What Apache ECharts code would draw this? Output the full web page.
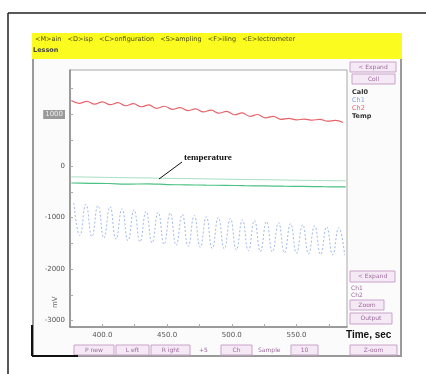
<!DOCTYPE html>
<html>
<head>
<meta charset="utf-8">
<script src="https://cdn.jsdelivr.net/npm/echarts@6/dist/echarts.min.js"></script>
<style>
  html, body { margin: 0; padding: 0; background: #fff; }
  #main { width: 426px; height: 374px; }
</style>
</head>
<body>
<div id="main"></div>
<script>
// 数据
var xTicks = [400, 450, 500, 550];
var yTicks = [-3000, -2000, -1000, 0, 1000];

var redT = [376, 382, 388, 394, 400, 406, 412, 418, 424, 430, 436, 442, 448, 454, 460, 466, 472, 478,
            484, 490, 496, 502, 508, 514, 520, 526, 532, 538, 544, 550, 556, 562, 568, 574, 580, 586];
var redV = [1270, 1215, 1255, 1200, 1245, 1190, 1230, 1170, 1210, 1150, 1185, 1120, 1160, 1100, 1135, 1075, 1110, 1050,
            1085, 1025, 1060, 995, 1030, 965, 1000, 935, 965, 905, 925, 895, 910, 890, 905, 870, 885, 845];

var blueT = [378, 382.6, 387.3, 391.9, 396.6, 401.2, 405.9, 410.5, 415.2, 419.8, 424.5, 429.1, 433.8, 438.4,
             443.1, 447.7, 452.4, 457, 461.7, 466.3, 471, 475.6, 480.3, 484.9, 489.6, 494.2, 498.9, 503.5,
             508.2, 512.8, 517.5, 522.1, 526.8, 531.4, 536.1, 540.7, 545.4, 550, 554.7, 559.3, 564, 568.6,
             573.3, 577.9, 582.6, 587.2];
var blueV = [-720, -1350, -745, -1370, -770, -1400, -790, -1420, -830, -1450, -850, -1470, -880, -1490,
             -900, -1520, -915, -1540, -940, -1560, -960, -1580, -985, -1600, -1000, -1610, -1020, -1630,
             -1045, -1645, -1060, -1660, -1080, -1670, -1100, -1685, -1120, -1695, -1140, -1705, -1160, -1715,
             -1180, -1725, -1200, -1730];

var greenT = [376, 390, 405, 420, 435, 450, 465, 480, 495, 510, 525, 540, 555, 570, 588];
var greenA = [-210, -215, -222, -228, -232, -240, -244, -250, -256, -262, -266, -272, -278, -283, -288];
var greenB = [-330, -336, -340, -352, -346, -360, -366, -372, -376, -382, -386, -392, -396, -402, -406];

function pairs(t, v) {
  var out = [];
  for (var i = 0; i < t.length; i++) out.push([t[i], v[i]]);
  return out;
}

var myChart = echarts.init(document.getElementById('main'), null, { renderer: 'canvas' });

function button(x, y, w, h, label) {
  return {
    type: 'group', z: 5,
    children: [
      { type: 'rect', shape: { x: x, y: y, width: w, height: h },
        style: { fill: '#f6e9f6', stroke: '#c9a3c9', lineWidth: 1 } },
      { type: 'text', x: x + w / 2, y: y + h / 2,
        style: { text: label, align: 'center', verticalAlign: 'middle', fontFamily: 'DejaVu Sans', fontSize: 6, fill: '#9a6a9a' } }
    ]
  };
}

var option = {
  animation: false,
  backgroundColor: '#fff',
  grid: {
    left: 70, right: 79, top: 70, bottom: 47,
    show: true, backgroundColor: '#fff', borderColor: '#a8a8a8', borderWidth: 1
  },
  xAxis: {
    type: 'value', min: 375, max: 589,
    axisLine: { onZero: false, lineStyle: { color: '#888', width: 1.5 } },
    axisTick: { customValues: [400, 425, 450, 475, 500, 525, 550, 575], length: 3, inside: true, lineStyle: { color: '#aaa' } },
    axisLabel: { customValues: xTicks, formatter: function (v) { return v.toFixed(1); },
      fontFamily: 'DejaVu Sans', fontSize: 7, color: '#555', margin: 5 },
    splitLine: { show: false }
  },
  yAxis: {
    type: 'value', min: -3126, max: 1864,
    axisLine: { show: true, lineStyle: { color: '#888', width: 1.5 } },
    axisTick: { customValues: [-3000, -2500, -2000, -1500, -1000, -500, 0, 500, 1000, 1500], length: 3, inside: true, lineStyle: { color: '#aaa' } },
    axisLabel: { customValues: yTicks, fontFamily: 'DejaVu Sans', fontSize: 7, color: '#555', margin: 5,
      formatter: function (v) { return v === 1000 ? '{g|' + v + '}' : String(v); },
      rich: { g: { backgroundColor: '#9a9a9a', color: '#eee', fontSize: 7, padding: [1, 2] } } },
    splitLine: { show: false }
  },
  series: [
    { name: 'Ch2', type: 'line', data: pairs(redT, redV), showSymbol: false, smooth: 0.4,
      lineStyle: { color: '#e5646a', width: 1.2 }, z: 3 },
    { name: 'TempA', type: 'line', data: pairs(greenT, greenA), showSymbol: false, smooth: 0.3,
      lineStyle: { color: '#a6dfc2', width: 1 } },
    { name: 'Temp', type: 'line', data: pairs(greenT, greenB), showSymbol: false, smooth: 0.3,
      lineStyle: { color: '#4cc184', width: 1.2 } },
    { name: 'Ch1', type: 'line', data: pairs(blueT, blueV), showSymbol: false, smooth: 0.5,
      lineStyle: { color: '#a3b9e8', width: 1, type: [2, 2] } }
  ],
  graphic: [
    // 外框
    { type: 'line', z: 10, shape: { x1: 8, y1: 13, x2: 426, y2: 13 }, style: { stroke: '#222', lineWidth: 1.5 } },
    { type: 'line', z: 10, shape: { x1: 8, y1: 13, x2: 8, y2: 374 }, style: { stroke: '#222', lineWidth: 1.5 } },
    // 窗口
    { type: 'rect', z: -10, shape: { x: 33, y: 58, width: 368, height: 298 },
      style: { fill: '#fcfbfc', stroke: '#9a9a9a', lineWidth: 2 } },
    { type: 'rect', z: -5, shape: { x: 32, y: 33, width: 370, height: 26 }, style: { fill: '#fbfb1f' } },
    { type: 'text', z: 6, x: 35, y: 36, style: { text: '<M>ain   <D>isp   <C>onfiguration   <S>ampling   <F>iling   <E>lectrometer',
      fontFamily: 'DejaVu Sans', fontSize: 6.5, fill: '#4a4a10' } },
    { type: 'text', z: 6, x: 33, y: 47, style: { text: 'Lesson', fontFamily: 'DejaVu Sans', fontSize: 6.5, fontWeight: 'bold', fill: '#444' } },
    { type: 'line', z: 10, shape: { x1: 32, y1: 325, x2: 32, y2: 356 }, style: { stroke: '#111', lineWidth: 2 } },
    { type: 'line', z: 10, shape: { x1: 32, y1: 356, x2: 78, y2: 356 }, style: { stroke: '#111', lineWidth: 2 } },
    // 纵轴名
    { type: 'text', z: 6, x: 52, y: 308, rotation: Math.PI / 2, style: { text: 'mV', fontFamily: 'DejaVu Sans', fontSize: 7, fill: '#666' } },
    // 右侧面板
    button(350, 62, 46, 10, '< Expand'),
    button(352, 74, 43, 10, 'Coll'),
    { type: 'text', z: 6, x: 352, y: 89, style: { text: 'Cal0', fontFamily: 'DejaVu Sans', fontSize: 6.5, fontWeight: 'bold', fill: '#333' } },
    { type: 'text', z: 6, x: 352, y: 97, style: { text: 'Ch1', fontFamily: 'DejaVu Sans', fontSize: 6.5, fill: '#7fa6e6' } },
    { type: 'text', z: 6, x: 352, y: 105, style: { text: 'Ch2', fontFamily: 'DejaVu Sans', fontSize: 6.5, fill: '#e5646a' } },
    { type: 'text', z: 6, x: 352, y: 113, style: { text: 'Temp', fontFamily: 'DejaVu Sans', fontSize: 6.5, fontWeight: 'bold', fill: '#333' } },
    button(350, 271, 45, 11, '< Expand'),
    { type: 'text', z: 6, x: 351, y: 285, style: { text: 'Ch1', fontFamily: 'DejaVu Sans', fontSize: 6, fill: '#9a6a9a' } },
    { type: 'text', z: 6, x: 351, y: 292, style: { text: 'Ch2', fontFamily: 'DejaVu Sans', fontSize: 6, fill: '#9a6a9a' } },
    button(350, 300, 34, 10, 'Zoom'),
    button(350, 313, 42, 11, 'Output'),
    button(350, 345, 47, 10, 'Z-oom'),
    // 底部按钮
    button(74, 345, 40, 10, 'P new'),
    button(116, 345, 33, 10, 'L eft'),
    button(151, 345, 39, 10, 'R ight'),
    { type: 'text', z: 6, x: 199, y: 347, style: { text: '+5', fontFamily: 'DejaVu Sans', fontSize: 6, fill: '#9a6a9a' } },
    button(221, 345, 31, 10, 'Ch'),
    { type: 'text', z: 6, x: 258, y: 347, style: { text: 'Sample', fontFamily: 'DejaVu Sans', fontSize: 6, fill: '#9a6a9a' } },
    button(291, 345, 27, 10, '10'),
    // 文字
    { type: 'text', z: 6, x: 346, y: 330, style: { text: 'Time, sec', fontFamily: 'Liberation Sans', fontSize: 10, fontWeight: 'bold', fill: '#111' } },
    { type: 'line', z: 6, shape: { x1: 159, y1: 179, x2: 182, y2: 162 }, style: { stroke: '#111', lineWidth: 1 } },
    { type: 'text', z: 6, x: 184, y: 153, style: { text: 'temperature', fontFamily: 'Liberation Serif', fontSize: 9, fontWeight: 'bold', fill: '#111' } }
  ]
};

myChart.setOption(option);
</script>
</body>
</html>
